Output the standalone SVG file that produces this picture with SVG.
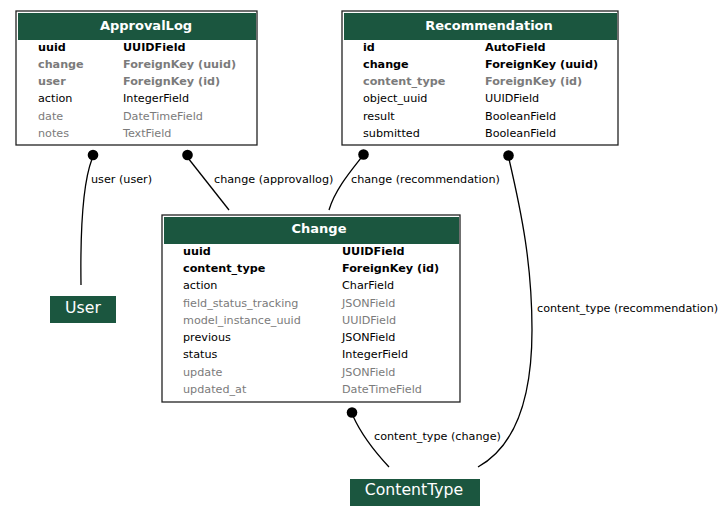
<svg xmlns="http://www.w3.org/2000/svg" width="723" height="521" viewBox="0 0 723 521">
<style>
.box{fill:#fff;stroke:#222;stroke-width:1.3}
.hdr{fill:#1b563f}
.ht{font-family:"DejaVu Sans",sans-serif;font-size:13px;font-weight:bold;fill:#fff;text-anchor:middle}
.t{font-family:"DejaVu Sans",sans-serif;font-size:11.2px;fill:#000}
.b{font-weight:bold}
.g{fill:#7b7b7b}
.nt{font-family:"DejaVu Sans",sans-serif;font-size:15.7px;fill:#fff;text-anchor:middle}
.e{fill:none;stroke:#000;stroke-width:1.3}
.lbl{font-family:"DejaVu Sans",sans-serif;font-size:11.2px;fill:#000}
</style>
<rect width="723" height="521" fill="#fff"/>
<g id="connectors">
<path class="e" d="M92,159 C84,180 80,215 81,285"/>
<circle cx="93" cy="155" r="5.3"/>
<text class="lbl" x="91" y="183">user (user)</text>
<path class="e" d="M188,158 L229,210"/>
<circle cx="187.5" cy="155" r="5.3"/>
<text class="lbl" x="214" y="183">change (approvallog)</text>
<path class="e" d="M361,158 C350,172 335,190 329,210"/>
<circle cx="363.5" cy="154.5" r="5.3"/>
<text class="lbl" x="351" y="183">change (recommendation)</text>
<path class="e" d="M509,159 C522,215 532,265 532,330 C532,405 512,448 478,467"/>
<circle cx="508.5" cy="155.5" r="5.3"/>
<text class="lbl" x="537" y="312">content_type (recommendation)</text>
<path class="e" d="M353,416 C362,436 375,452 389,467"/>
<circle cx="352" cy="412.5" r="5.3"/>
<text class="lbl" x="374" y="440">content_type (change)</text>
</g>
<g id="ApprovalLog">
<rect class="box" x="16" y="11" width="241" height="134"/>
<rect class="hdr" x="18" y="13" width="238" height="27"/>
<text class="ht" x="146" y="29.5">ApprovalLog</text>
<text class="t b" x="38" y="50.5">uuid</text><text class="t b" x="123" y="50.5">UUIDField</text>
<text class="t b g" x="38" y="67.8">change</text><text class="t b g" x="123" y="67.8">ForeignKey (uuid)</text>
<text class="t b g" x="38" y="85.1">user</text><text class="t b g" x="123" y="85.1">ForeignKey (id)</text>
<text class="t" x="38" y="102.4">action</text><text class="t" x="123" y="102.4">IntegerField</text>
<text class="t g" x="38" y="119.7">date</text><text class="t g" x="123" y="119.7">DateTimeField</text>
<text class="t g" x="38" y="137">notes</text><text class="t g" x="123" y="137">TextField</text>
</g>
<g id="Recommendation">
<rect class="box" x="342" y="11" width="276" height="134"/>
<rect class="hdr" x="344" y="13" width="273" height="27"/>
<text class="ht" x="489" y="29.5">Recommendation</text>
<text class="t b" x="363" y="50.5">id</text><text class="t b" x="485" y="50.5">AutoField</text>
<text class="t b" x="363" y="67.8">change</text><text class="t b" x="485" y="67.8">ForeignKey (uuid)</text>
<text class="t b g" x="363" y="85.1">content_type</text><text class="t b g" x="485" y="85.1">ForeignKey (id)</text>
<text class="t" x="363" y="102.4">object_uuid</text><text class="t" x="485" y="102.4">UUIDField</text>
<text class="t" x="363" y="119.7">result</text><text class="t" x="485" y="119.7">BooleanField</text>
<text class="t" x="363" y="137">submitted</text><text class="t" x="485" y="137">BooleanField</text>
</g>
<g id="Change">
<rect class="box" x="162" y="215" width="298" height="187"/>
<rect class="hdr" x="164" y="217" width="295" height="27"/>
<text class="ht" x="319" y="232.5">Change</text>
<text class="t b" x="183" y="254.6">uuid</text><text class="t b" x="342" y="254.6">UUIDField</text>
<text class="t b" x="183" y="271.9">content_type</text><text class="t b" x="342" y="271.9">ForeignKey (id)</text>
<text class="t" x="183" y="289.2">action</text><text class="t" x="342" y="289.2">CharField</text>
<text class="t g" x="183" y="306.5">field_status_tracking</text><text class="t g" x="342" y="306.5">JSONField</text>
<text class="t g" x="183" y="323.8">model_instance_uuid</text><text class="t g" x="342" y="323.8">UUIDField</text>
<text class="t" x="183" y="341.1">previous</text><text class="t" x="342" y="341.1">JSONField</text>
<text class="t" x="183" y="358.4">status</text><text class="t" x="342" y="358.4">IntegerField</text>
<text class="t g" x="183" y="375.7">update</text><text class="t g" x="342" y="375.7">JSONField</text>
<text class="t g" x="183" y="393">updated_at</text><text class="t g" x="342" y="393">DateTimeField</text>
</g>
<g id="User">
<rect class="hdr" x="50" y="296" width="66" height="27"/>
<text class="nt" x="83" y="313">User</text>
</g>
<g id="ContentType">
<rect class="hdr" x="350" y="479" width="130" height="27"/>
<text class="nt" x="414" y="495">ContentType</text>
</g>
</svg>
